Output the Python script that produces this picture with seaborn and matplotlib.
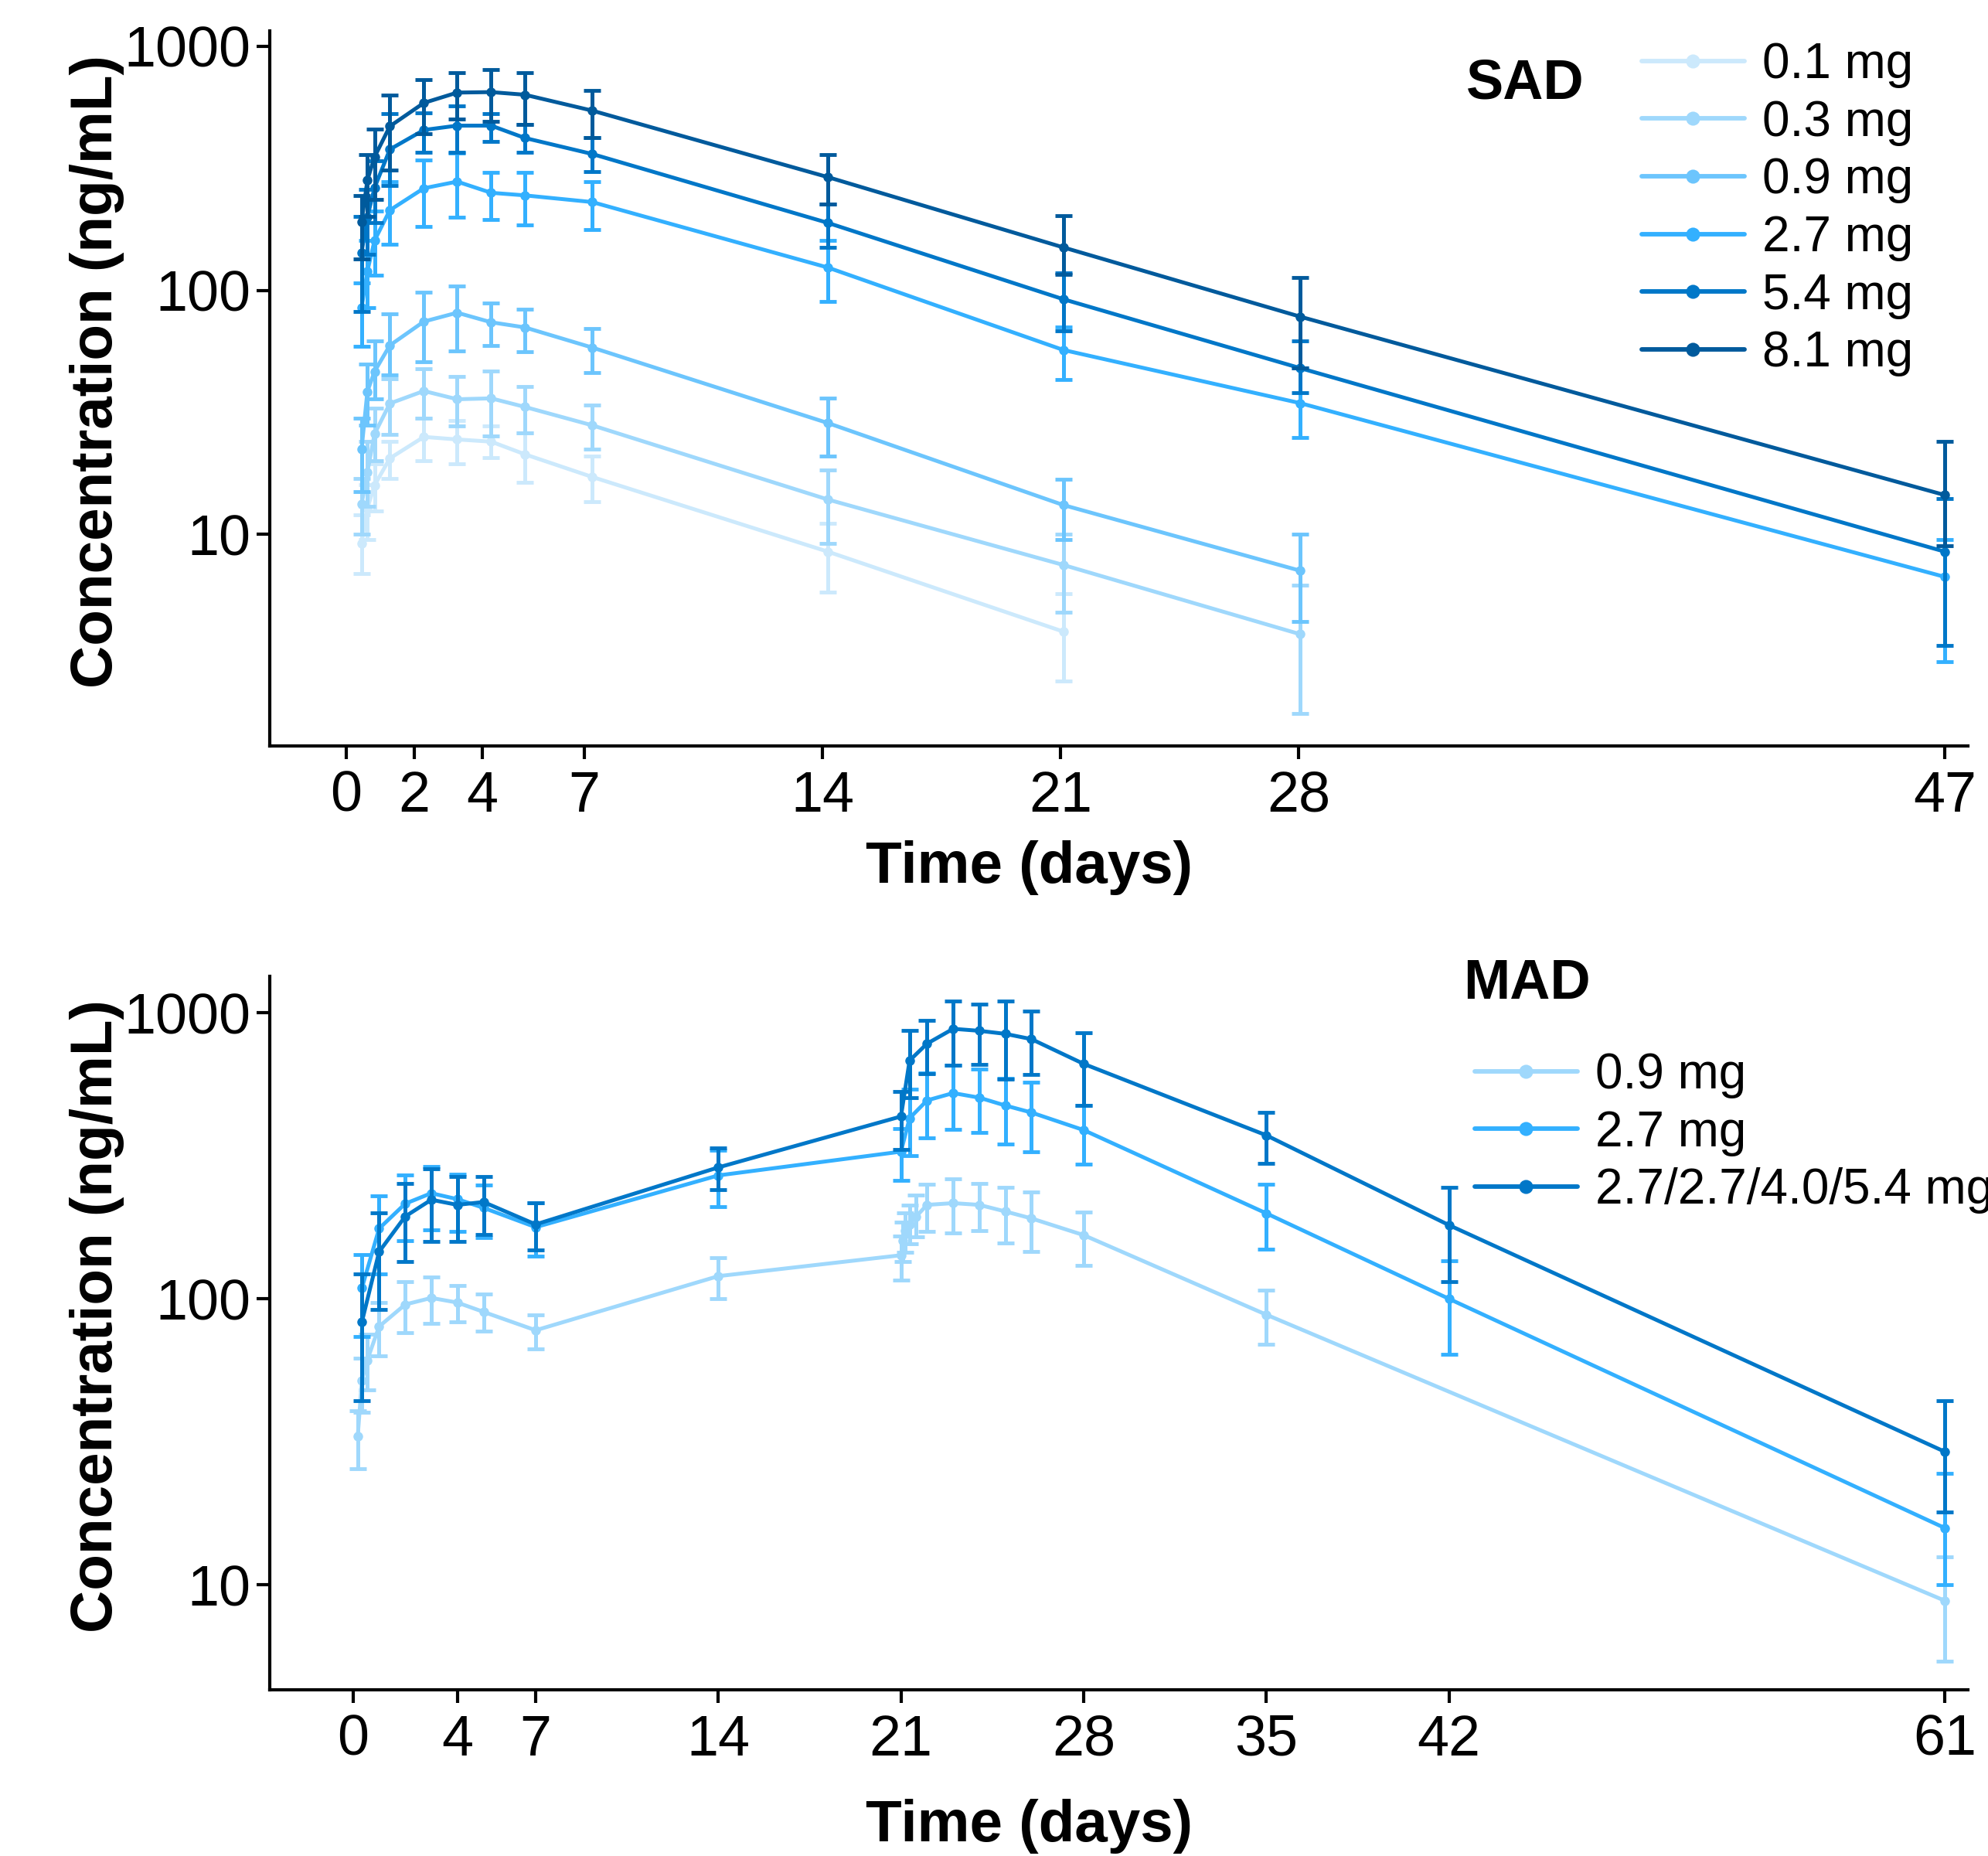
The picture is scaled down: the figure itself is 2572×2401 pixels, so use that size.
import numpy as np
import pandas as pd
import matplotlib
matplotlib.use("Agg")
import matplotlib.pyplot as plt
import seaborn as sns
from matplotlib.lines import Line2D
from matplotlib.ticker import NullLocator

sns.set_theme(style="ticks")
plt.rcParams['font.family'] = ['Liberation Sans', 'DejaVu Sans']
plt.rcParams['text.color'] = 'black'
plt.rcParams['axes.labelcolor'] = 'black'
plt.rcParams['xtick.color'] = 'black'
plt.rcParams['ytick.color'] = 'black'

# ---------------- SAD data ----------------
sad_labels = ["0.1 mg", "0.3 mg", "0.9 mg", "2.7 mg", "5.4 mg", "8.1 mg"]
sad_colors = ["#cce9fc", "#9fd8fc", "#6cc5fd", "#33b0ff", "#0077c8", "#005a9c"]
sad_t = [0.45, 0.62, 0.83, 1.28, 2.28, 3.26, 4.26, 5.25, 7.23, 14.16, 21.08, 28.05, 47.0]

sad01_m = [9.2, 12.8, 15.9, 20.5, 25.1, 24.5, 24.0, 21.3, 17.2, 8.5, 4.0]
sad01_lo = [6.9, 9.5, 12.5, 17, 20, 19.4, 20.6, 16.3, 13.6, 5.8, 2.5]
sad01_hi = [12, 16, 19.5, 24, 30, 29.2, 27.8, 26, 20.9, 11.1, 5.7]

sad03_m = [13.3, 18, 25.8, 34.4, 38.7, 35.8, 36.1, 33.3, 28.0, 13.9, 7.5, 3.9]
sad03_lo = [10, 13, 20, 25.6, 30, 27.8, 25.4, 26, 22.4, 9.2, 4.8, 1.85]
sad03_hi = [17, 24, 33, 43.5, 47.8, 44.3, 46.8, 40.5, 33.8, 18.4, 10.0, 6.2]

sad09_m = [22.4, 38.5, 46.5, 59.5, 74.5, 81, 74, 70.5, 58.3, 28.6, 13.2, 7.1]
sad09_lo = [15, 28, 36, 45, 51, 56.5, 59.5, 56, 46, 21, 9.5, 4.4]
sad09_hi = [30, 50, 62, 80, 98, 104, 89, 84, 70, 36.2, 16.8, 10.0]

sad27_m = [85, 120, 160, 213, 262, 279, 251, 245, 230, 124, 57, 34.5, 6.7]
sad27_lo = [59, 85, 115, 154, 183, 199, 195, 185, 178, 90, 43, 25, 3.0]
sad27_hi = [107, 160, 211, 279, 343, 365, 305, 305, 279, 160, 71, 48, 9.5]

sad54_m = [143, 200, 263, 378, 454, 473, 473, 421, 362, 189, 92, 48, 8.5]
sad54_lo = [82, 140, 190, 269, 369, 368, 407, 369, 307, 150, 68, 38, 3.5]
sad54_hi = [201, 260, 340, 531, 535, 571, 531, 479, 421, 226, 118, 62, 14]

sad81_m = [191, 283, 352, 470, 586, 646, 649, 633, 545, 291, 150, 78, 14.5]
sad81_lo = [134, 201, 236, 311, 438, 504, 492, 480, 421, 226, 116, 48, 9.0]
sad81_hi = [245, 360, 459, 630, 729, 779, 800, 779, 661, 360, 202, 113, 24]

# ---------------- MAD data ----------------
mad_labels = ["0.9 mg", "2.7 mg", "2.7/2.7/4.0/5.4 mg"]
mad_colors = ["#9fd8fc", "#33b0ff", "#0077c8"]

mad09_t = [0.18, 0.34, 0.54, 1, 2, 3, 4, 5, 7, 14, 21, 21.08, 21.17, 21.33, 21.58,
           22, 23, 24, 25, 26, 28, 35, 61]
mad09_m = [33, 51.8, 60.8, 80, 95.5, 100.7, 97, 90, 77.6, 120, 142, 160, 173, 182, 194,
           213, 216, 213, 202, 191, 167, 88, 8.8]
mad09_lo = [25.4, 40, 48, 63, 76, 82, 83, 77, 67, 100, 116, 135, 145, 156, 165,
            172, 170, 173, 157, 146, 131, 69.5, 5.4]
mad09_hi = [40.5, 62, 75, 97, 115, 119, 111, 103.6, 88, 139, 166, 185, 200, 212, 230,
            252, 262, 253, 245, 237, 201, 107, 12.5]

mad_t = [0.34, 1, 2, 3, 4, 5, 7, 14, 21, 21.33, 22, 23, 24, 25, 26, 28, 35, 42, 61]
mad27_m = [109, 176, 215, 234, 223, 208, 178, 270, 327, 428, 494, 524, 505, 474, 448, 389, 199, 100, 15.8]
mad27_lo = [74, 122, 160, 174, 172, 164, 141, 210, 259, 316, 366, 392, 381, 347, 327, 295, 149, 64, 10]
mad27_hi = [143, 229, 271, 291, 272, 250, 216, 330, 394, 540, 615, 654, 634, 589, 571, 474, 251, 136, 24.5]

madc_m = [83, 146, 194, 222, 213, 218, 182, 288, 434, 681, 780, 879, 865, 844, 809, 663, 373, 181, 29.2]
madc_lo = [44, 91.5, 135, 159, 159, 168, 148, 240, 333, 505, 614, 654, 658, 586, 608, 474, 297, 115, 18]
madc_hi = [122, 200, 253, 284, 268, 268, 216, 336, 531, 865, 940, 1098, 1069, 1098, 1011, 851, 448, 245, 44]

sad_xticks = [0, 2, 4, 7, 14, 21, 28, 47]
mad_xticks = [0, 4, 7, 14, 21, 28, 35, 42, 61]
yticks = [10, 100, 1000]

LW = 3.6
MS = 9
TICK_FS = 53
LABEL_FS = 55
LEG_FS = 46

fig = plt.figure(figsize=(25.72, 24.01), dpi=100)
ax1 = fig.add_axes([0.1357, 0.5981, 0.8542, 0.3853])
ax2 = fig.add_axes([0.1357, 0.0895, 0.8542, 0.3844])


def draw(ax, t, m, lo, hi, color):
    n = len(m)
    t = np.asarray(t[:n], float)
    m = np.asarray(m, float)
    lo = np.asarray(lo, float)
    hi = np.asarray(hi, float)
    df = pd.DataFrame({"t": t, "c": m})
    sns.lineplot(data=df, x="t", y="c", ax=ax, color=color, marker="o",
                 markersize=MS, markeredgewidth=0, markeredgecolor=color,
                 linewidth=LW, legend=False, errorbar=None)
    ax.errorbar(t, m, yerr=[m - lo, hi - m], fmt="none", ecolor=color,
                elinewidth=LW, capsize=8, capthick=3.5)


sad_series = [(sad01_m, sad01_lo, sad01_hi), (sad03_m, sad03_lo, sad03_hi),
              (sad09_m, sad09_lo, sad09_hi), (sad27_m, sad27_lo, sad27_hi),
              (sad54_m, sad54_lo, sad54_hi), (sad81_m, sad81_lo, sad81_hi)]
for (m, lo, hi), c in zip(sad_series, sad_colors):
    draw(ax1, sad_t, m, lo, hi, c)

draw(ax2, mad09_t, mad09_m, mad09_lo, mad09_hi, mad_colors[0])
draw(ax2, mad_t, mad27_m, mad27_lo, mad27_hi, mad_colors[1])
draw(ax2, mad_t, madc_m, madc_lo, madc_hi, mad_colors[2])


def style(ax, xticks, xlim, ylim, xlab_y):
    ax.set_yscale("log")
    ax.set_xlim(*xlim)
    ax.set_ylim(*ylim)
    ax.set_xticks(xticks)
    ax.set_xticklabels([str(v) for v in xticks])
    ax.set_yticks(yticks)
    ax.set_yticklabels([str(v) for v in yticks])
    ax.yaxis.set_minor_locator(NullLocator())
    ax.xaxis.set_minor_locator(NullLocator())
    ax.tick_params(axis="both", which="major", labelsize=TICK_FS, length=12,
                   width=3, direction="out", color="black", labelcolor="black")
    ax.tick_params(axis="x", pad=10)
    ax.tick_params(axis="y", pad=6)
    for s in ["top", "right"]:
        ax.spines[s].set_visible(False)
    for s in ["left", "bottom"]:
        ax.spines[s].set_linewidth(3)
        ax.spines[s].set_color("black")
    ax.set_xlabel("Time (days)", fontsize=LABEL_FS, fontweight="bold", color="black")
    ax.set_ylabel("Concentration (ng/mL)", fontsize=LABEL_FS, fontweight="bold", color="black")
    ax.yaxis.set_label_coords(-0.0857, 0.524)
    ax.xaxis.set_label_coords(0.447, xlab_y)
    ax.grid(False)
    ax.set_facecolor("white")


style(ax1, sad_xticks, (-2.25, 47.68), (1.36, 1157), -0.132)
style(ax2, mad_xticks, (-3.19, 61.89), (4.29, 1340), -0.1524)


def handles(colors):
    return [Line2D([0], [0], color=c, lw=LW + 0.6, marker="o", markersize=MS * 1.45,
                   markeredgewidth=0) for c in colors]


leg1 = ax1.legend(handles(sad_colors), sad_labels, loc="upper left",
                  bbox_to_anchor=(2124 / 2572, 1 - 54 / 2401),
                  bbox_transform=fig.transFigure, frameon=False, fontsize=LEG_FS,
                  handlelength=2.08, handletextpad=0.36, labelspacing=0.23,
                  borderpad=0, borderaxespad=0, numpoints=1)
leg2 = ax2.legend(handles(mad_colors), mad_labels, loc="upper left",
                  bbox_to_anchor=(1908 / 2572, 1 - 1361 / 2401),
                  bbox_transform=fig.transFigure, frameon=False, fontsize=LEG_FS,
                  handlelength=2.08, handletextpad=0.36, labelspacing=0.23,
                  borderpad=0, borderaxespad=0, numpoints=1)

fig.text(1973 / 2572, 1 - 108 / 2401, "SAD", ha="center", va="center",
         fontsize=52, fontweight="bold", color="black")
fig.text(1975 / 2572, 1 - 1273 / 2401, "MAD", ha="center", va="center",
         fontsize=52, fontweight="bold", color="black")

fig.patch.set_facecolor("white")
fig.savefig("out.png", dpi=100, facecolor="white")
